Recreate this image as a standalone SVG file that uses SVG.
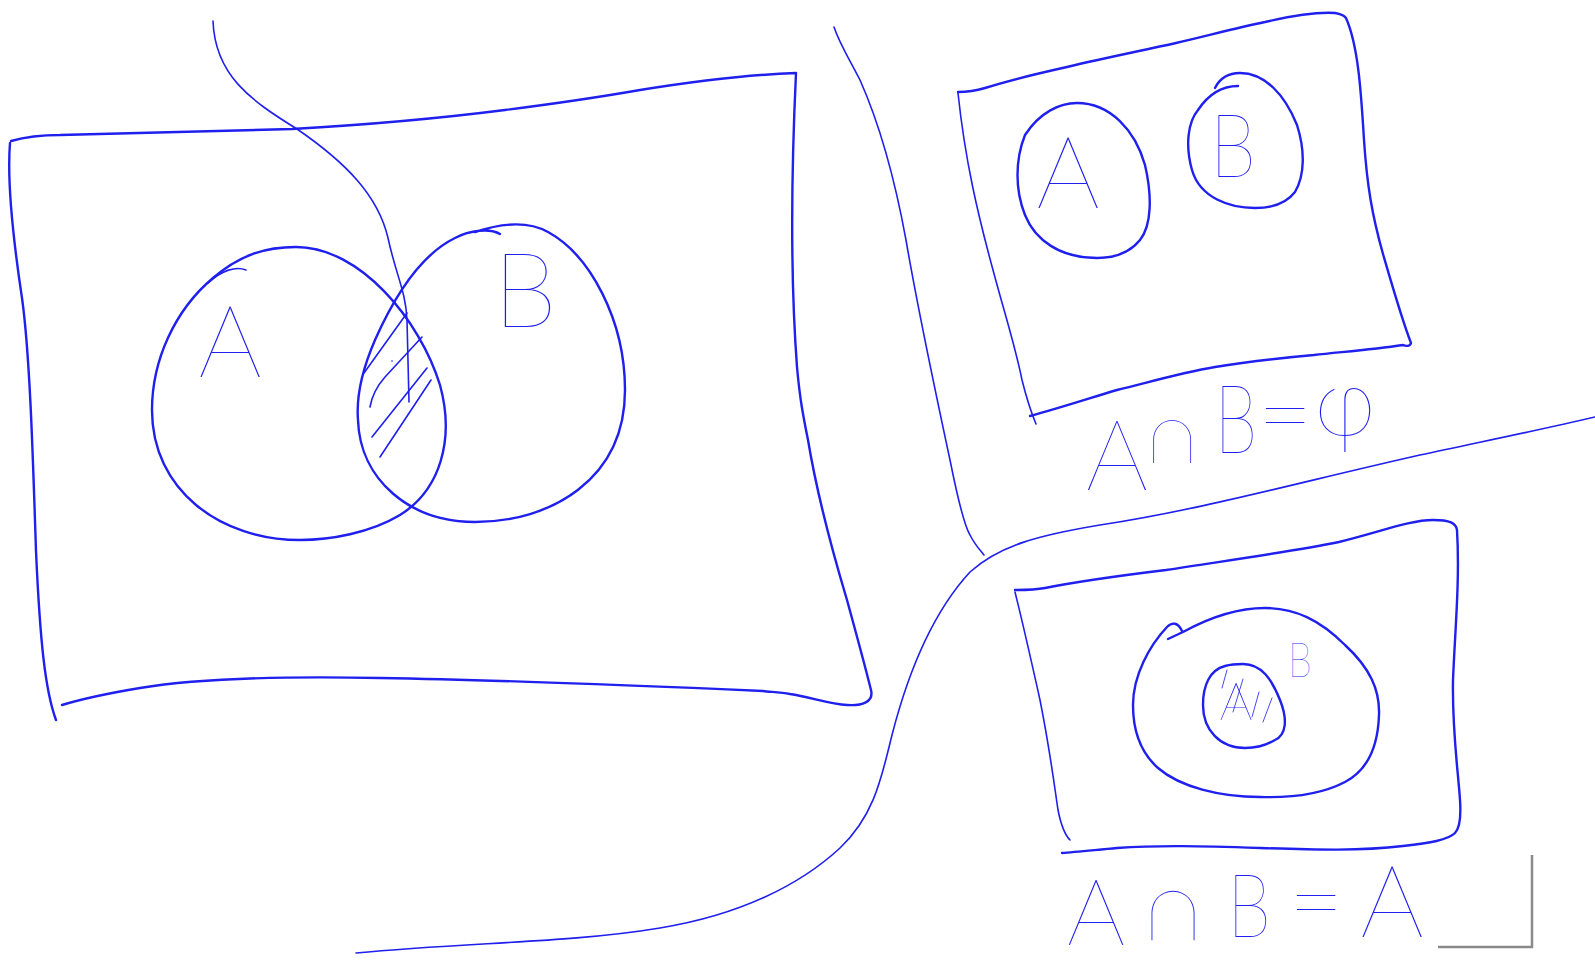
<svg xmlns="http://www.w3.org/2000/svg" width="1595" height="960" viewBox="0 0 1595 960">
<style>
.ink{fill:none;stroke:#1f1fee;stroke-width:2.4;stroke-linecap:round;stroke-linejoin:round}
.thin{fill:none;stroke:#1f1fee;stroke-width:1.6;stroke-linecap:round;stroke-linejoin:round}
.hair{fill:none;stroke:#4a4af0;stroke-width:1;stroke-linecap:round}
.lbl{font-family:Lato,"DejaVu Sans",sans-serif;font-weight:200;fill:#1f1fee;text-anchor:middle}
</style>
<rect width="1595" height="960" fill="#ffffff"/>
<g id="connectors">
<path class="thin" d="M213,21 C215,75 250,100 297,129 C345,162 378,195 388,238 C396,275 406,292 407,320 L409,402"/>
<path class="thin" d="M834,27 C840,45 850,60 860,80 C880,125 895,180 906,240 C918,310 935,390 950,460 C958,500 964,525 970,535 C975,545 980,550 984,555"/>
<path class="thin" d="M356,953 C470,942 570,943 660,928 C740,915 800,885 840,848 C875,815 882,775 892,735 C910,665 935,610 970,572 C1000,545 1040,535 1100,525 C1200,510 1300,482 1420,455 C1480,442 1540,430 1595,417"/>
</g>
<g id="universe">
<path class="ink" d="M11,141 C25,137 40,135 60,135 C150,133 230,131 292,129 C380,124 450,117 505,110 C560,103 600,97 640,90 C690,82 740,75 796,73 C790,200 792,300 797,367 C800,400 803,415 808,440 C818,500 835,560 847,600 C858,640 866,670 871,690 C874,702 862,706 847,705 C830,704 810,697 790,694 C780,692 770,692 763,691 C650,686 500,680 380,678 C280,676 200,678 140,688 C110,693 85,698 62,705"/>
<path class="ink" d="M10,143 C7,180 14,245 22,298 C30,355 33,460 36,551 C40,640 45,690 56,720"/>
</g>
<g id="setA">
<path class="ink" d="M213,278 C240,255 265,247 296,247 C360,247 420,320 440,385 C455,440 440,490 400,515 C370,533 330,540 300,540 C220,540 152,490 152,410 C152,360 175,310 213,278"/>
<path class="thin" d="M208,283 C222,270 236,266 246,270"/>
<text class="lbl" x="230" y="377" font-size="100">A</text>
</g>
<g id="setB">
<path class="ink" d="M500,234 C490,228 470,230 455,238 C420,255 395,295 375,340 C362,370 356,395 358,420 C360,480 410,522 475,522 C550,522 625,480 625,390 C625,320 590,255 548,232 C530,222 505,222 475,232"/>
<text class="lbl" x="525" y="327" font-size="104">B</text>
</g>
<g id="intersection">
<path class="thin" d="M364,373 L407,313"/>
<path class="thin" d="M370,407 C372,395 378,385 385,377 L422,337"/>
<path class="thin" d="M372,437 L427,368"/>
<path class="thin" d="M380,457 L431,380"/>
<circle cx="392" cy="361" r="0.8" fill="#1f1fee"/>
</g>
<g id="disjoint">
<path class="ink" d="M958,92 C965,92 975,91 985,88 C1010,80 1040,73 1067,67 C1105,58 1140,51 1176,43 C1210,35 1240,27 1265,22 C1295,15 1320,12 1335,13 C1341,14 1344,15 1346,18 C1358,45 1361,90 1364,140 C1367,185 1372,215 1383,254 C1392,285 1402,320 1411,343 C1410,347 1405,346 1403,345 C1370,350 1340,352 1314,355 C1280,358 1245,362 1215,367 C1180,373 1150,382 1117,390 C1090,398 1060,408 1030,416"/>
<path class="thin" d="M958,93 C965,160 978,215 993,270 C1005,315 1015,345 1022,380 C1027,400 1031,412 1036,424"/>
<path class="ink" d="M1077,103 C1110,103 1135,130 1145,165 C1152,195 1152,225 1140,240 C1128,255 1110,258 1097,258 C1060,258 1035,240 1025,215 C1015,190 1015,160 1025,135 C1040,112 1060,103 1077,103 Z"/>
<path class="ink" d="M1215,88 C1220,78 1228,73 1240,73 C1265,73 1285,95 1297,125 C1305,150 1305,175 1295,192 C1285,205 1270,208 1255,208 C1230,208 1200,198 1192,170 C1185,145 1188,122 1198,110 C1208,95 1222,86 1238,86"/>
<text class="lbl" x="1068" y="208" font-size="100">A</text>
<text class="lbl" transform="translate(1233,177) scale(0.85,1)" font-size="88">B</text>
<text class="lbl" x="1117" y="490" font-size="98">A</text>
<text class="lbl" x="1172" y="463" font-size="80">∩</text>
<text class="lbl" transform="translate(1236,453) scale(0.72,1)" font-size="96">B</text>
<text class="lbl" x="1285" y="448" font-size="96">=</text>
<text class="lbl" x="1345" y="435" font-size="94">φ</text>
</g>
<g id="subset">
<path class="ink" d="M1015,590 C1025,590 1035,590 1045,588 C1085,580 1125,575 1166,570 C1230,560 1290,552 1339,542 C1380,532 1410,520 1433,520 C1450,520 1456,523 1457,530 C1460,580 1455,630 1453,680 C1452,730 1458,770 1460,800 C1461,815 1460,828 1455,833 C1448,840 1430,843 1403,846 C1360,851 1320,850 1260,848 C1200,846 1160,845 1117,848 C1095,850 1075,852 1062,853"/>
<path class="thin" d="M1015,592 C1022,620 1030,655 1040,700 C1050,750 1055,790 1058,810 C1062,830 1066,836 1070,840"/>
<path class="ink" d="M1168,639 L1183,632 C1205,620 1235,608 1265,608 C1295,608 1320,620 1345,645 C1370,668 1380,690 1379,715 C1378,745 1368,770 1345,782 C1320,795 1290,798 1260,797 C1220,797 1180,787 1158,768 C1140,752 1133,730 1133,705 C1133,675 1150,645 1167,627 C1172,622 1178,622 1182,631"/>
<path class="ink" d="M1243,664 C1262,664 1272,680 1280,700 C1288,720 1286,735 1275,740 C1265,746 1255,748 1245,748 C1220,748 1203,730 1203,705 C1203,685 1210,670 1225,666 C1232,664 1240,664 1243,664 Z"/>
<path class="hair" d="M1227,670 L1222,688 M1243,679 L1233,712 M1259,692 L1252,717 M1272,698 L1263,722"/>
<text class="lbl" x="1236" y="720" font-size="52">A</text>
<text class="lbl" transform="translate(1300,677) scale(0.8,1)" font-size="48">B</text>
<text class="lbl" x="1096" y="945" font-size="92">A</text>
<text class="lbl" x="1173" y="940" font-size="92">∩</text>
<text class="lbl" transform="translate(1249,937) scale(0.8,1)" font-size="88">B</text>
<text class="lbl" x="1316" y="935" font-size="96">=</text>
<text class="lbl" x="1392" y="937" font-size="100">A</text>
</g>
<path d="M1438,947 L1532,947 L1532,855" fill="none" stroke="#8a8a8a" stroke-width="2.5"/>
</svg>
